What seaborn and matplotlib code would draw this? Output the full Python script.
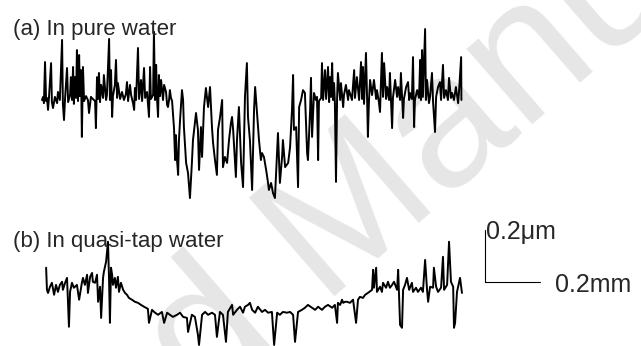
import numpy as np
import pandas as pd
import seaborn as sns
import matplotlib.pyplot as plt

# ========== DATA ==========
# scan position (um) and surface height (nm)

# (a) In pure water
x_a_um = [0, 4, 7, 11, 15, 18, 22, 25, 33, 36, 40, 47, 55, 58, 65, 73, 76, 80, 84, 91,
          95, 102, 105, 109, 113, 116, 120, 124, 127, 131, 135, 138, 142, 145, 149, 153, 160, 167, 171, 178,
          185, 193, 196, 200, 204, 207, 211, 215, 222, 225, 233, 236, 244, 247, 251, 255, 258, 265, 269, 273,
          276, 284, 291, 298, 305, 309, 313, 320, 324, 331, 335, 338, 342, 349, 353, 360, 364, 371, 375, 382,
          389, 393, 396, 404, 407, 411, 415, 418, 422, 425, 429, 433, 440, 444, 451, 455, 458, 462, 465, 469,
          473, 476, 480, 484, 487, 491, 495, 498, 502, 509, 513, 516, 524, 531, 538, 545, 549, 560, 567, 571,
          578, 582, 589, 596, 604, 611, 618, 622, 629, 636, 640, 647, 655, 658, 665, 673, 680, 687, 691, 695,
          705, 709, 716, 724, 731, 738, 745, 749, 756, 764, 771, 775, 782, 789, 796, 800, 807, 815, 822, 825,
          833, 840, 847, 855, 858, 865, 873, 876, 884, 895, 902, 909, 913, 916, 924, 931, 935, 942, 949, 956,
          964, 967, 975, 978, 982, 989, 996, 1000, 1004, 1007, 1015, 1018, 1022, 1029, 1033, 1040, 1044, 1047, 1051, 1055,
          1058, 1062, 1065, 1069, 1073, 1076, 1084, 1087, 1095, 1098, 1105, 1113, 1116, 1124, 1127, 1135, 1138, 1145, 1153, 1160,
          1164, 1167, 1171, 1178, 1182, 1185, 1189, 1193, 1200, 1207, 1215, 1218, 1225, 1229, 1236, 1240, 1244, 1251, 1255, 1262,
          1265, 1273, 1276, 1284, 1291, 1295, 1302, 1305, 1313, 1316, 1324, 1331, 1335, 1338, 1345, 1349, 1353, 1356, 1364, 1371,
          1375, 1378, 1382, 1385, 1393, 1396, 1400, 1407, 1411, 1418, 1422, 1429, 1433, 1440, 1447, 1451, 1458, 1462, 1469, 1476,
          1480, 1487, 1491, 1498, 1505, 1513, 1516, 1524, 1525]
h_a_nm = [0, 12, -12, 146, -4, 8, -38, 4, 142, -8, -31, 12, -12, 31, 0, 231, -15, -77, 8, 123,
          -8, 19, 88, 0, 127, -15, 88, 8, 192, -4, 173, 15, 115, -142, 127, -4, 15, 0, -50, 12,
          4, -4, -108, 88, 4, 104, -8, 58, 8, 96, 0, 19, 235, 0, 115, -65, 15, 58, 154, 8,
          65, 4, 31, 0, 23, 69, -4, 58, 19, -12, -38, 46, 0, 200, 4, 77, -4, 123, 8, 31,
          -65, 127, 4, 19, 262, 0, 135, 8, -65, 96, 15, 77, 0, 58, 31, -19, -27, 0, 38, 8,
          -4, -50, -108, -231, -135, -231, -288, -154, -77, 38, 0, -104, -242, -281, -377, -242, -154, -50, -115, -269,
          -104, -219, -27, 46, -27, 50, -104, -165, -231, -288, -115, -69, 0, -258, -219, -242, -154, -88, -65, -115,
          -296, -154, -27, -242, -335, 12, 142, -65, -154, -346, -38, 50, -50, -154, -231, -204, -219, -269, -319, -346,
          -319, -358, -377, -192, -127, -319, -219, -154, -258, -242, -181, -38, 96, -115, -104, -335, -27, 0, 38, 27,
          -204, -231, -38, 85, -142, 27, 0, 12, -231, -4, 8, 142, 0, 115, 4, 127, -8, 88, 12, 142,
          0, 65, -12, -315, 8, 104, 0, 65, -27, 19, 58, 0, 38, 12, 0, 115, 8, 88, 0, 146,
          4, 127, -15, 181, 8, -142, 0, 77, 19, 77, 4, 38, -8, -46, 181, 12, 142, 4, 50, 0,
          104, -108, 8, 77, 12, 50, 0, 104, -69, 4, 50, 69, 0, 27, 4, 165, -104, 0, 38, 8,
          154, 0, 192, 12, 273, 0, 77, -12, 12, 104, -8, -123, 12, 50, 69, 0, 135, 8, 38, 0,
          85, 8, 27, 0, 50, -12, 27, 165, 0]

# (b) In quasi-tap water
x_b_um = [15, 18, 22, 29, 36, 44, 51, 58, 65, 73, 76, 84, 91, 98, 102, 109, 116, 127, 135, 145,
          149, 156, 164, 167, 175, 182, 185, 193, 200, 204, 211, 215, 222, 225, 233, 240, 244, 247, 251, 255,
          258, 265, 269, 276, 280, 287, 295, 302, 309, 316, 327, 338, 349, 360, 371, 385, 389, 400, 411, 422,
          436, 444, 455, 465, 476, 491, 502, 513, 527, 531, 545, 556, 567, 571, 582, 593, 604, 618, 629, 636,
          647, 658, 669, 676, 691, 695, 709, 720, 731, 738, 749, 756, 764, 775, 785, 800, 811, 822, 836, 844,
          855, 865, 876, 891, 902, 913, 920, 931, 945, 956, 967, 982, 993, 1004, 1018, 1029, 1040, 1055, 1065, 1073,
          1076, 1084, 1091, 1095, 1102, 1109, 1120, 1131, 1142, 1149, 1156, 1167, 1175, 1185, 1200, 1204, 1207, 1215, 1218, 1229,
          1236, 1240, 1251, 1258, 1265, 1273, 1280, 1291, 1295, 1302, 1309, 1313, 1320, 1327, 1335, 1345, 1349, 1360, 1367, 1378,
          1385, 1393, 1400, 1404, 1411, 1422, 1425, 1433, 1440, 1451, 1458, 1462, 1473, 1480, 1487, 1495, 1498, 1502, 1509, 1513,
          1520, 1527]
h_b_nm = [85, 0, -12, 12, 27, -19, 19, -8, 19, 31, 0, 27, 46, -142, -8, 27, 8, 19, -38, 27,
          46, 19, 58, -12, 50, 65, 31, 27, 58, -46, 12, -108, 46, 69, 108, 185, 31, -127, 85, 58,
          19, 46, 8, 50, -8, 27, 0, -12, -19, -31, -38, -46, -50, -58, -65, -73, -127, -77, -88, -96,
          -85, -127, -88, -96, -104, -96, -88, -104, -108, -162, -96, -104, -173, -212, -96, -85, -96, -88, -96, -181,
          -85, -96, -200, -85, -58, -96, -77, -65, -88, -65, -58, -50, -77, -88, -65, -85, -77, -88, -85, -212,
          -88, -96, -85, -88, -85, -96, -200, -85, -77, -69, -58, -69, -77, -65, -77, -65, -58, -69, -58, -127,
          -50, -58, -38, -50, -46, -46, -50, -38, -127, -38, -27, -31, -19, -12, 0, 77, 8, 85, -8, 12,
          -8, 27, 8, 31, 8, 19, 31, 0, 77, -135, -146, 0, 19, 46, 0, 27, -8, 8, -8, 8,
          -8, 115, 0, -46, 12, 8, 85, 12, -8, 8, 127, 0, 19, 185, 31, 12, -146, -127, -8, 12,
          46, -12]

trace_labels = ["(a) In pure water", "(b) In quasi-tap water"]
bar_height_um = 0.2
bar_length_mm = 0.2

# ========== FIGURE ==========
sns.set_style("white")
plt.rcParams['font.family'] = ['Liberation Sans', 'DejaVu Sans']

fig = plt.figure(figsize=(6.41, 3.46), dpi=100)
ax = fig.add_axes([0, 0, 1, 1])

# watermark of the source page, behind everything
ax.text(0.504, 0.303, "Accepted Manuscript", fontsize=137, color="#e6e6e6",
        rotation=41, ha="center", va="center", rotation_mode="anchor",
        transform=ax.transAxes, zorder=0, clip_on=True)

df_a = pd.DataFrame({"x": np.array(x_a_um) / 1000, "h": np.array(h_a_nm) / 1000})
df_b = pd.DataFrame({"x": np.array(x_b_um) / 1000, "h": np.array(h_b_nm) / 1000 - 0.73})

for d in (df_a, df_b):
    sns.lineplot(data=d, x="x", y="h", sort=False, estimator=None, color="black",
                 lw=1.4, ax=ax, zorder=3)

ax.text(-0.105, 0.25, trace_labels[0], fontsize=16, va="baseline", zorder=4)
ax.text(-0.105, -0.565, trace_labels[1], fontsize=16, va="baseline", zorder=4)

# scale bar
x0, y0 = 1.611, -0.70
ax.plot([x0, x0, x0 + bar_length_mm], [y0 + bar_height_um, y0, y0], color="black", lw=0.8, zorder=4)
ax.text(x0 + 0.003, -0.535, "0.2\u03bcm", fontsize=18, va="baseline", zorder=4)
ax.text(1.866, -0.738, "0.2mm", fontsize=18, va="baseline", zorder=4)

ax.set_xlim(-0.1527, 2.178)
ax.set_ylim(-0.946, 0.3846)
ax.axis("off")

fig.savefig("out.png", dpi=100)
